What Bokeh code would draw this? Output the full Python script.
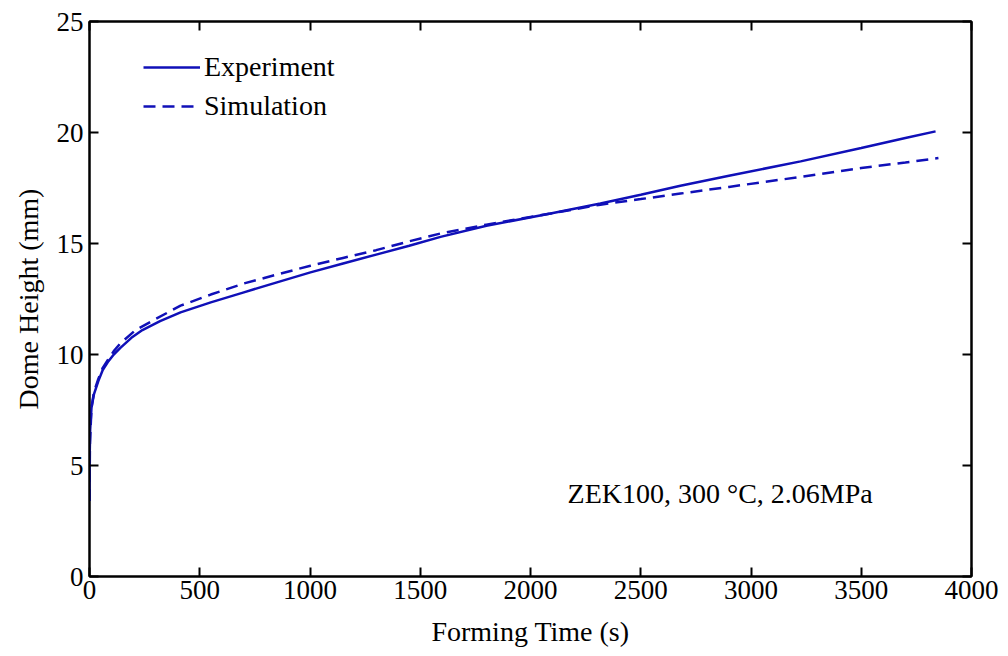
from bokeh.plotting import figure
from bokeh.models import Legend, LegendItem, LinearAxis, Label, Range1d, CustomJSTickFormatter
from bokeh.embed import file_html
from bokeh.resources import INLINE

# Experiment: forming time (s) vs dome height (mm)
exp_time = [0, 1, 3, 9, 20, 40, 60, 86, 110, 140, 190, 240, 320, 413, 550, 700, 850,
            1002, 1150, 1300, 1450, 1592, 1800, 2091, 2317, 2500, 2680, 2900, 3225,
            3500, 3700, 3837]
exp_height = [3.4, 5.5, 6.6, 7.6, 8.2, 8.8, 9.3, 9.7, 10.0, 10.3, 10.75, 11.1, 11.5,
              11.9, 12.35, 12.8, 13.25, 13.7, 14.1, 14.5, 14.9, 15.3, 15.8, 16.35,
              16.8, 17.2, 17.6, 18.05, 18.7, 19.3, 19.75, 20.05]

# Simulation
sim_time = [0, 2, 9, 20, 40, 60, 86, 110, 140, 209, 300, 413, 550, 700, 850, 1002,
            1150, 1300, 1450, 1592, 1800, 2091, 2317, 2500, 2680, 2900, 3225, 3500,
            3700, 3850]
sim_height = [3.4, 6.0, 7.6, 8.3, 8.9, 9.4, 9.8, 10.15, 10.5, 11.1, 11.6, 12.2, 12.7,
              13.2, 13.6, 14.0, 14.35, 14.7, 15.1, 15.45, 15.85, 16.35, 16.75, 17.0,
              17.25, 17.55, 18.0, 18.4, 18.65, 18.85]

x_ticks = [0, 500, 1000, 1500, 2000, 2500, 3000, 3500, 4000]
y_ticks = [0, 5, 10, 15, 20, 25]

FONT = "'Liberation Serif', 'DejaVu Serif', serif"
BLUE = "#1010b8"
TICK_SIZE = "27px"
LABEL_SIZE = "28px"

p = figure(width=1008, height=656, output_backend="svg", toolbar_location=None,
           x_range=Range1d(0, 4000), y_range=Range1d(0, 25),
           min_border_left=89, min_border_right=37, min_border_top=21,
           min_border_bottom=80)
p.xgrid.visible = False
p.ygrid.visible = False
p.outline_line_color = "black"
p.outline_line_width = 2
p.background_fill_color = "white"
p.border_fill_color = "white"

r_exp = p.line(exp_time, exp_height, line_color=BLUE, line_width=2.5)
r_sim = p.line(sim_time, sim_height, line_color=BLUE, line_width=2.5, line_dash="12 7")


def style_axis(ax):
    ax.axis_line_color = "black"
    ax.axis_line_width = 2
    ax.major_tick_in = 9
    ax.major_tick_out = 0
    ax.major_tick_line_width = 2
    ax.minor_tick_in = 0
    ax.minor_tick_out = 0
    ax.major_label_text_font = FONT
    ax.major_label_text_color = "black"
    ax.major_label_text_font_size = TICK_SIZE
    ax.axis_label_text_font = FONT
    ax.axis_label_text_font_style = "normal"
    ax.axis_label_text_font_size = LABEL_SIZE
    ax.axis_label_text_color = "black"


xa = p.xaxis[0]
ya = p.yaxis[0]
style_axis(xa)
style_axis(ya)
xa.ticker = x_ticks
ya.ticker = y_ticks
xa.axis_label = "Forming Time (s)"
ya.axis_label = "Dome Height (mm)"
xa.major_label_standoff = 4
xa.axis_label_standoff = 14
ya.major_label_standoff = 6
ya.axis_label_standoff = 10

blank = CustomJSTickFormatter(code="return '';")
top_ax = LinearAxis(ticker=x_ticks, formatter=blank)
style_axis(top_ax)
right_ax = LinearAxis(ticker=y_ticks, formatter=blank)
style_axis(right_ax)
p.add_layout(top_ax, "above")
p.add_layout(right_ax, "right")

legend = Legend(items=[LegendItem(label="Experiment", renderers=[r_exp]),
                       LegendItem(label="Simulation", renderers=[r_sim])],
                location=(54, 454))
legend.border_line_color = None
legend.background_fill_alpha = 0
legend.margin = 0
legend.padding = 0
legend.spacing = 7
legend.glyph_width = 57
legend.glyph_height = 30
legend.label_height = 30
legend.label_standoff = 4
legend.label_text_font = FONT
legend.label_text_font_size = LABEL_SIZE
legend.label_text_color = "black"
p.add_layout(legend)

note = Label(x=2168, y=3.75, text="ZEK100, 300 °C, 2.06MPa", text_font=FONT,
             text_font_size=LABEL_SIZE, text_color="black",
             text_baseline="alphabetic", text_align="left")
p.add_layout(note)

open("out.html", "w").write(file_html(p, INLINE))
